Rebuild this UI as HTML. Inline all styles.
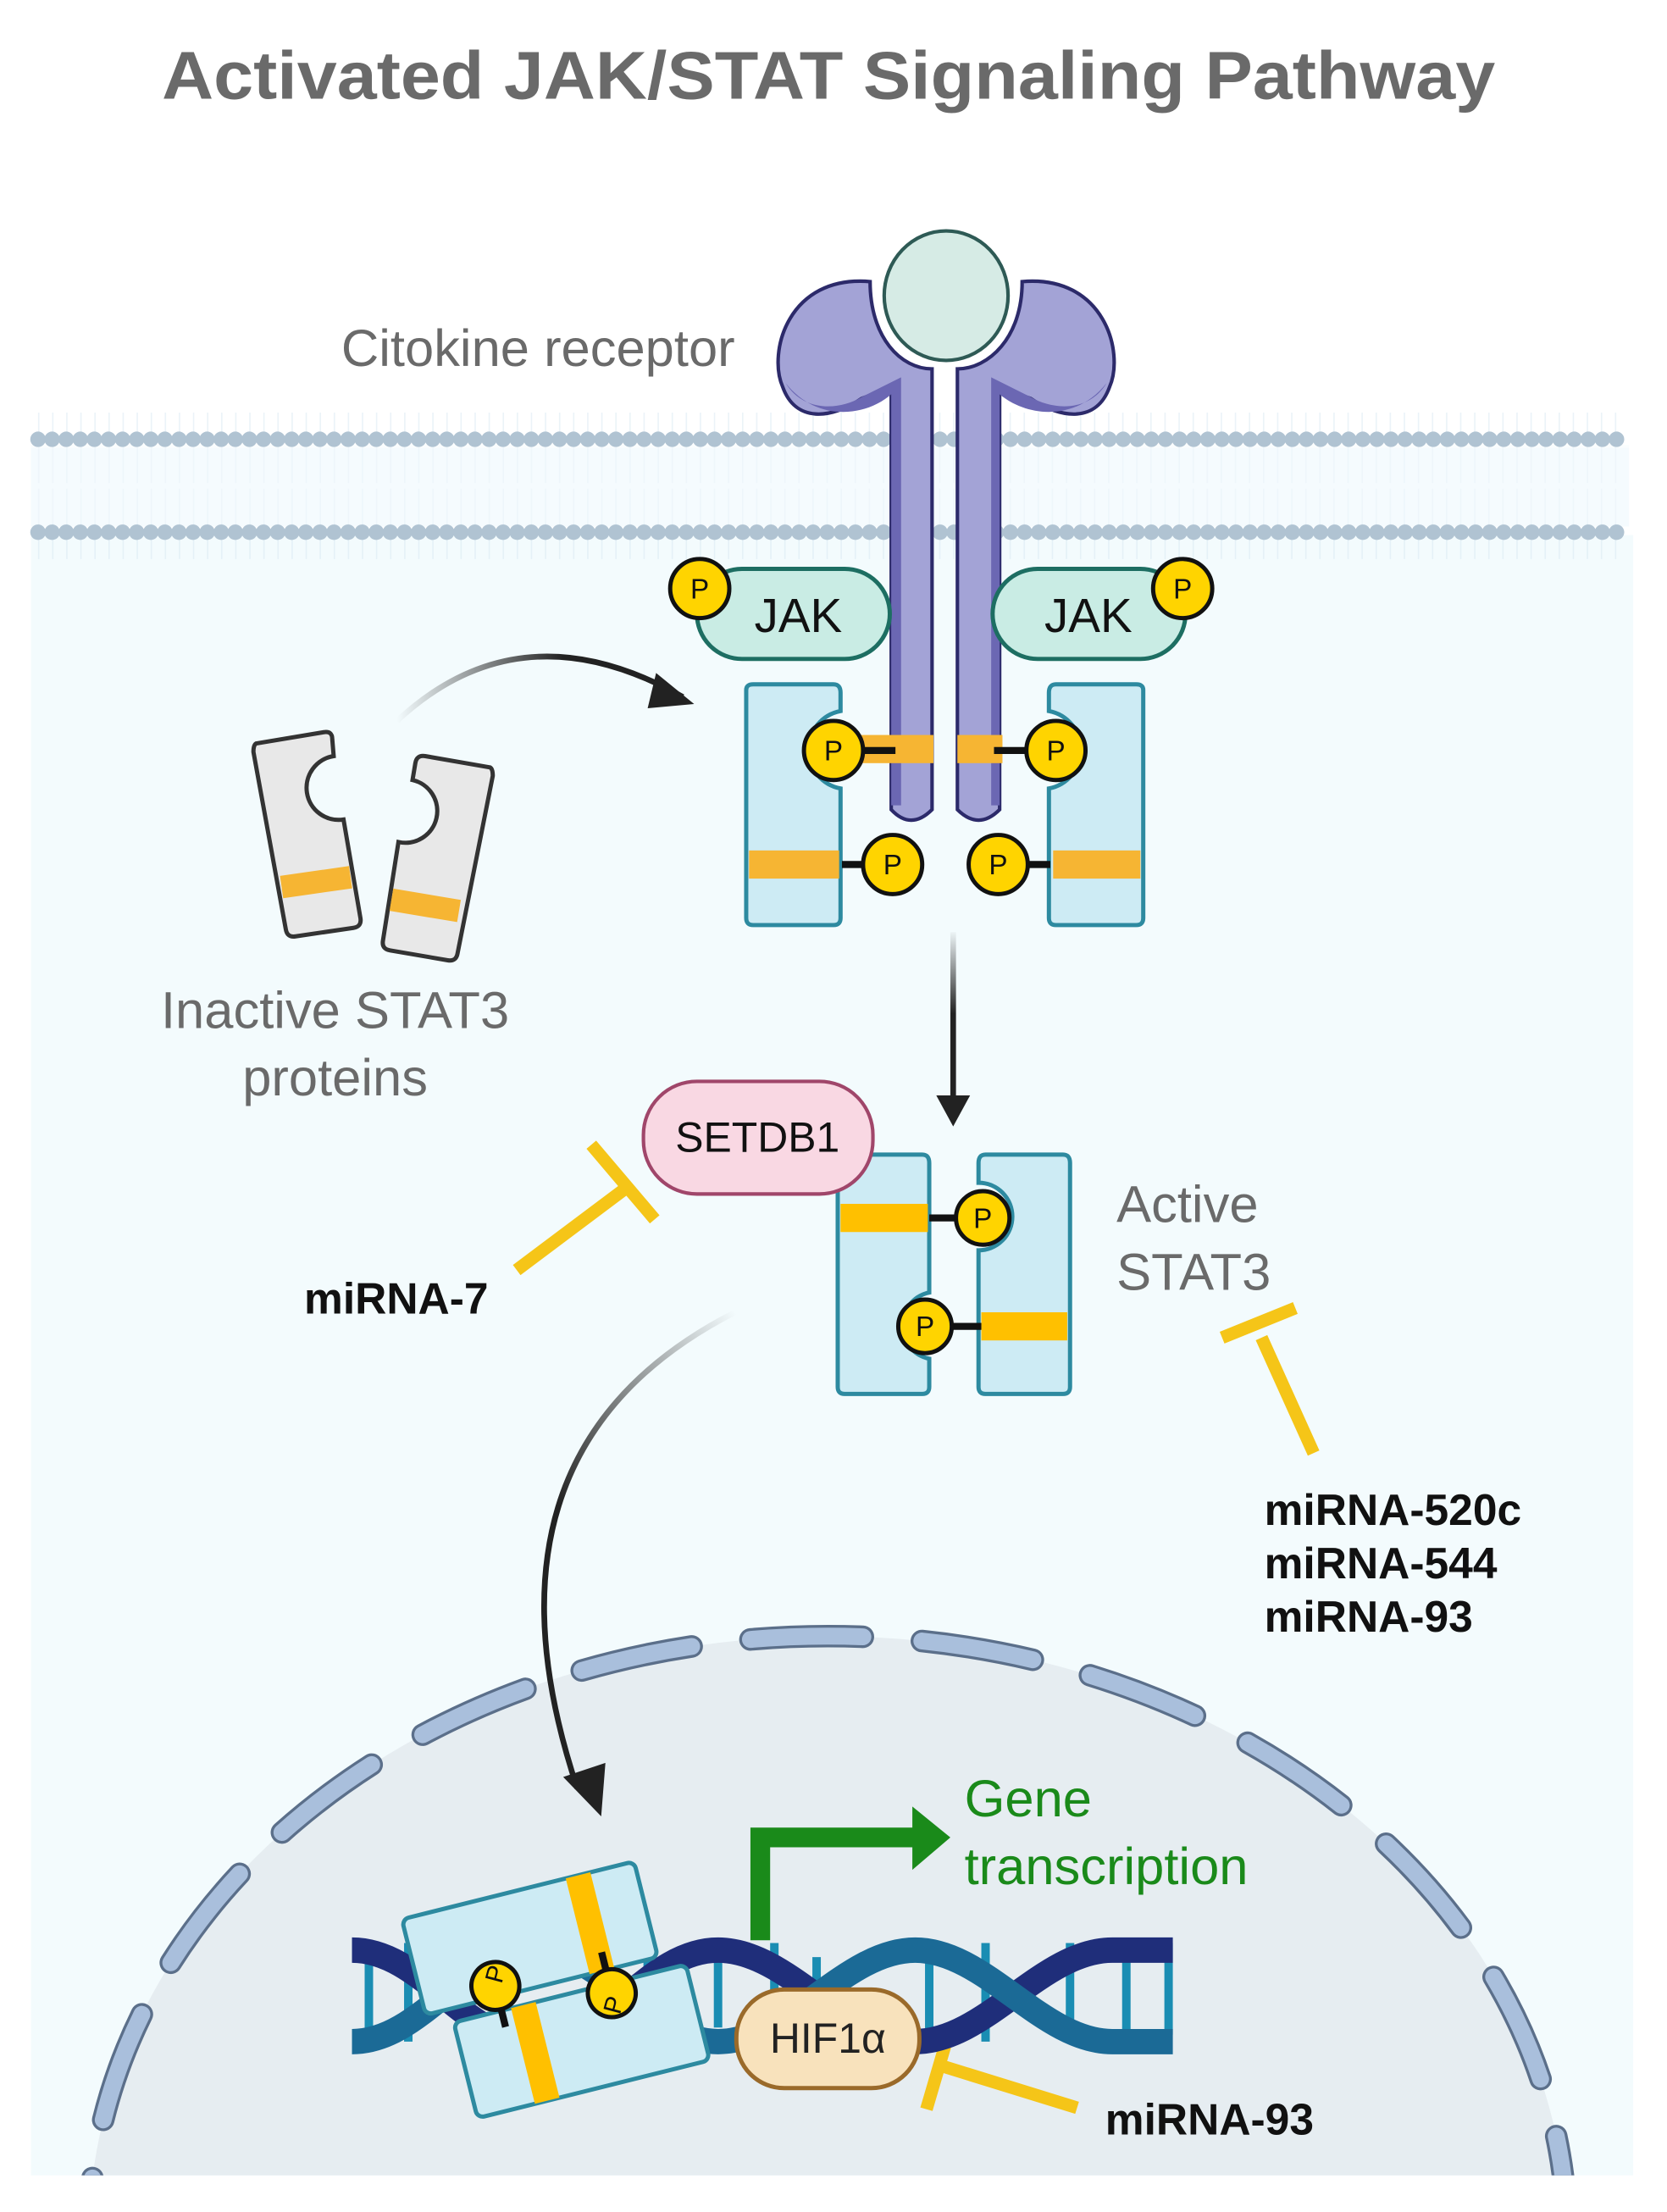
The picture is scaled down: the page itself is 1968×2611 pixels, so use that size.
<!DOCTYPE html>
<html><head><meta charset="utf-8"><style>
html,body{margin:0;padding:0;background:#fff;overflow:hidden;width:1968px;height:2611px;}
svg{display:block;}
text{font-family:"Liberation Sans",sans-serif;}
</style></head><body>
<svg width="1968" height="2611" viewBox="0 0 1184 1571" preserveAspectRatio="none" xmlns="http://www.w3.org/2000/svg">
<defs>
<linearGradient id="g1" gradientUnits="userSpaceOnUse" x1="282" y1="0" x2="400" y2="0"><stop offset="0" stop-color="#222" stop-opacity="0"/><stop offset="1" stop-color="#222"/></linearGradient>
<linearGradient id="g2" gradientUnits="userSpaceOnUse" x1="0" y1="660" x2="0" y2="720"><stop offset="0" stop-color="#222" stop-opacity="0"/><stop offset="1" stop-color="#222"/></linearGradient>
<linearGradient id="g3" gradientUnits="userSpaceOnUse" x1="520" y1="930" x2="380" y2="1050"><stop offset="0" stop-color="#222" stop-opacity="0"/><stop offset="1" stop-color="#222"/></linearGradient>
<clipPath id="cl"><rect x="0" y="0" width="1184" height="1545"/></clipPath>
</defs>
<rect width="1184" height="1571" fill="#fff"/>
<text x="115" y="70" textLength="947" lengthAdjust="spacingAndGlyphs" font-size="48" font-weight="bold" fill="#6a6a6a">Activated JAK/STAT Signaling Pathway</text>
<!-- cytoplasm -->
<rect x="22" y="380" width="1138" height="1165" fill="#f3fbfd"/>
<!-- membrane -->
<rect x="22" y="318" width="1135" height="56" fill="#f5fbfe"/>
<path d="M27,318 H1157 M27,372 H1157" stroke="#d8e9f3" stroke-width="50" stroke-dasharray="1,9" opacity="0.5"/>
<rect x="22" y="316" width="1135" height="56" fill="#f5fbfe" opacity="0.5"/>
<path d="M27,312 H1155 M27,378 H1155" stroke="#b0c3d2" stroke-width="11" stroke-dasharray="0.01,10" stroke-linecap="round"/>
<!-- nucleus -->
<g clip-path="url(#cl)">
<ellipse cx="588" cy="1590" rx="525" ry="428" fill="#e6edf1"/>
<ellipse cx="588" cy="1590" rx="525" ry="428" fill="none" stroke="#5b6f8a" stroke-width="16" stroke-dasharray="80,42" stroke-linecap="round"/>
<ellipse cx="588" cy="1590" rx="525" ry="428" fill="none" stroke="#a9bfdc" stroke-width="12" stroke-dasharray="80,42" stroke-linecap="round"/>
</g>
<!-- receptor -->
<g stroke="#2c2a6a" stroke-width="2.5">
<path d="M618,200 C560,195 545,250 556,275 C565,300 590,298 612,283 L633,275 L633,575 Q647,590 662,575 L662,262 C640,262 618,240 618,200 Z" fill="#a3a3d6"/>
<path d="M726,200 C784,195 799,250 788,275 C779,300 754,298 732,283 L710,275 L710,575 Q695,590 680,575 L680,262 C702,262 726,240 726,200 Z" fill="#a3a3d6"/>
</g>
<path d="M558,272 C570,292 595,292 612,282 L640,268 L640,572 L633,572 L633,280 C615,296 580,300 558,272Z" fill="#6b67b3"/>
<path d="M786,272 C774,292 749,292 732,282 L704,268 L704,572 L710,572 L710,280 C729,296 764,300 786,272Z" fill="#6b67b3"/>
<ellipse cx="672" cy="210" rx="44" ry="46" fill="#d6ebe5" stroke="#2e5a55" stroke-width="2.5"/>
<text x="522" y="260" text-anchor="end" font-size="37" fill="#6a6a6a">Citokine receptor</text>
<!-- JAKs -->
<rect x="495" y="404" width="137" height="64" rx="32" fill="#c9ece4" stroke="#1d6e62" stroke-width="3"/>
<rect x="705" y="404" width="137" height="64" rx="32" fill="#c9ece4" stroke="#1d6e62" stroke-width="3"/>
<text x="567" y="449" text-anchor="middle" font-size="34" fill="#111">JAK</text>
<text x="773" y="449" text-anchor="middle" font-size="34" fill="#111">JAK</text>
<g fill="#ffd400" stroke="#111" stroke-width="3">
<circle cx="497" cy="418" r="21"/><circle cx="840" cy="418" r="21"/>
</g>
<g font-size="20" fill="#111" text-anchor="middle"><text x="497" y="425">P</text><text x="840" y="425">P</text></g>
<!-- STATs on receptor -->
<g fill="#cdebf4" stroke="#2d8aa0" stroke-width="3">
<path d="M530,490 Q530,486 535,486 H592 Q597,486 597,492 V505 A28,28 0 0,0 597,560 V652 Q597,657 592,657 H535 Q530,657 530,652 Z"/>
<path d="M812,490 Q812,486 807,486 H750 Q745,486 745,492 V505 A28,28 0 0,1 745,560 V652 Q745,657 750,657 H807 Q812,657 812,652 Z"/>
</g>
<g fill="#f6b533"><rect x="598" y="522" width="65" height="20"/><rect x="680" y="522" width="32" height="20"/><rect x="532" y="604" width="64" height="20"/><rect x="748" y="604" width="62" height="20"/></g>
<g stroke="#111" stroke-width="5"><path d="M610,533 H636 M706,533 H732 M598,614 H618 M728,614 H746"/></g>
<g fill="#ffd400" stroke="#111" stroke-width="3">
<circle cx="592" cy="533" r="21"/><circle cx="750" cy="533" r="21"/><circle cx="634" cy="614" r="21"/><circle cx="709" cy="614" r="21"/>
</g>
<g font-size="20" fill="#111" text-anchor="middle"><text x="592" y="540">P</text><text x="750" y="540">P</text><text x="634" y="621">P</text><text x="709" y="621">P</text></g>
<!-- inactive STAT3 -->
<g fill="#e8e8e8" stroke="#333" stroke-width="3">
<path d="M182,528 L230,520 Q236,519 236,525 L237,537 A22,22 0 0,0 244,582 L256,652 Q257,658 251,659 L210,665 Q204,666 203,660 L180,534 Q180,529 182,528 Z"/>
<path d="M348,545 L302,537 Q296,536 295,542 L293,554 A22,22 0 0,1 283,598 L272,668 Q271,674 277,675 L318,682 Q324,683 325,677 L350,551 Q350,546 348,545 Z"/>
</g>
<g stroke="#f6b533" stroke-width="16"><path d="M200,630 L249,623 M278,639 L326,647"/></g>
<text x="238" y="730" text-anchor="middle" font-size="37" fill="#6a6a6a">Inactive STAT3</text>
<text x="238" y="778" text-anchor="middle" font-size="37" fill="#6a6a6a">proteins</text>
<!-- arrows -->
<path d="M282,512 Q370,430 485,495" fill="none" stroke="url(#g1)" stroke-width="4"/>
<path d="M466,478 L493,500 L460,503 Z" fill="#222"/>
<path d="M677,662 V780" stroke="url(#g2)" stroke-width="4"/>
<path d="M665,778 L677,800 L689,778 Z" fill="#222"/>
<path d="M522,932 Q330,1030 410,1270" fill="none" stroke="url(#g3)" stroke-width="4"/>
<path d="M400,1262 L427,1290 L430,1252 Z" fill="#222"/>
<!-- active STAT3 dimer -->
<g fill="#cdebf4" stroke="#2d8aa0" stroke-width="3">
<path d="M600,820 H655 Q660,820 660,826 V918 A24,24 0 0,0 660,965 V985 Q660,990 655,990 H600 Q595,990 595,985 V826 Q595,820 600,820 Z"/>
<path d="M755,820 H700 Q695,820 695,826 V840 A24,24 0 0,1 695,888 V985 Q695,990 700,990 H755 Q760,990 760,985 V826 Q760,820 755,820 Z"/>
</g>
<g fill="#ffc000"><rect x="597" y="855" width="62" height="20"/><rect x="697" y="932" width="61" height="20"/></g>
<g stroke="#111" stroke-width="5"><path d="M660,865 H680 M676,942 H697"/></g>
<g fill="#ffd400" stroke="#111" stroke-width="3"><circle cx="698" cy="865" r="19"/><circle cx="657" cy="942" r="19"/></g>
<g font-size="20" fill="#111" text-anchor="middle"><text x="698" y="872">P</text><text x="657" y="949">P</text></g>
<text x="793" y="868" font-size="37" fill="#6a6a6a">Active</text>
<text x="793" y="916" font-size="37" fill="#6a6a6a">STAT3</text>
<!-- SETDB1 -->
<rect x="457" y="768" width="163" height="80" rx="38" fill="#f9d8e3" stroke="#a0466a" stroke-width="2.5"/>
<text x="538" y="818" text-anchor="middle" font-size="30" fill="#111">SETDB1</text>
<!-- inhibitors -->
<g stroke="#f5c518" stroke-width="9" fill="none">
<path d="M367,902 L443,845 M420,813 L465,866"/>
<path d="M933,1032 L896,950 M868,950 L920,929"/>
<path d="M765,1497 L668,1467 M675,1440 L658,1498"/>
</g>
<text x="216" y="933" font-size="31" font-weight="bold" fill="#111">miRNA-7</text>
<g font-size="31" font-weight="bold" fill="#111">
<text x="898" y="1083">miRNA-520c</text><text x="898" y="1121">miRNA-544</text><text x="898" y="1159">miRNA-93</text>
<text x="785" y="1516">miRNA-93</text>
</g>
<!-- DNA -->
<g stroke-width="6">
<g stroke="#1a8db3"><path d="M262,1390 V1445 M290,1380 V1450 M460,1380 V1450 M510,1390 V1440 M550,1380 V1450 M580,1390 V1445 M660,1380 V1450 M700,1380 V1450 M760,1380 V1450 M800,1385 V1445 M830,1380 V1445"/></g>
</g>
<g fill="none" stroke-width="18">
<path d="M250,1385 C300,1385 330,1450 380,1450 C430,1450 460,1385 510,1385 C560,1385 600,1450 650,1450 C700,1450 740,1385 790,1385 L833,1385" stroke="#1f2e7a"/>
<path d="M250,1450 C300,1450 330,1385 380,1385 C430,1385 460,1450 510,1450 C560,1450 600,1385 650,1385 C700,1385 740,1450 790,1450 L833,1450" stroke="#1b6a96"/>
</g>
<!-- transcription arrow -->
<path d="M540,1378 V1305 H650" fill="none" stroke="#1a8a1a" stroke-width="14"/>
<path d="M648,1283 L675,1305 L648,1328 Z" fill="#1a8a1a"/>
<text x="685" y="1290" font-size="37" fill="#1a8a1a">Gene</text>
<text x="685" y="1338" font-size="37" fill="#1a8a1a">transcription</text>
<!-- STAT dimer on DNA -->
<g transform="rotate(-14 395 1410)">
<rect x="300" y="1338" width="170" height="70" rx="5" fill="#cdebf4" stroke="#2d8aa0" stroke-width="3"/>
<rect x="318" y="1418" width="170" height="70" rx="5" fill="#cdebf4" stroke="#2d8aa0" stroke-width="3"/>
<rect x="420" y="1338" width="18" height="70" fill="#ffc000"/>
<rect x="360" y="1418" width="18" height="70" fill="#ffc000"/>
<path d="M353,1405 V1430 M432,1395 V1420" stroke="#111" stroke-width="5"/>
<circle cx="353" cy="1400" r="17" fill="#ffd400" stroke="#111" stroke-width="3"/>
<circle cx="432" cy="1425" r="17" fill="#ffd400" stroke="#111" stroke-width="3"/>
</g>
<g font-size="18" fill="#111"><text x="346" y="1408" transform="rotate(-75 352 1402)">P</text><text x="430" y="1430" transform="rotate(-75 436 1424)">P</text></g>
<!-- HIF1a -->
<rect x="523" y="1413" width="130" height="70" rx="34" fill="#f8e2bc" stroke="#9a6a2a" stroke-width="3"/>
<text x="588" y="1458" text-anchor="middle" font-size="30" fill="#222">HIF1α</text>
</svg>
</body></html>
